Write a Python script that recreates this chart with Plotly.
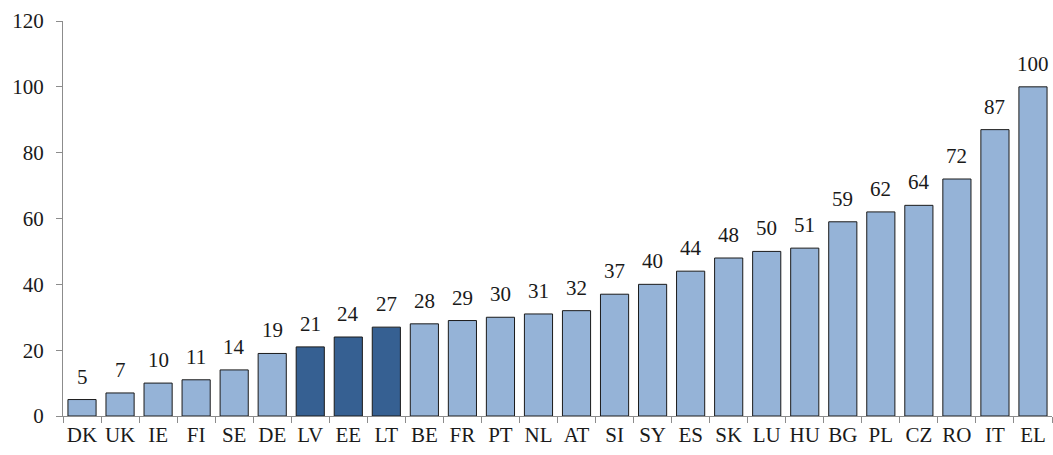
import plotly.graph_objects as go

countries = ["DK", "UK", "IE", "FI", "SE", "DE", "LV", "EE", "LT", "BE", "FR", "PT", "NL",
             "AT", "SI", "SY", "ES", "SK", "LU", "HU", "BG", "PL", "CZ", "RO", "IT", "EL"]
values = [5, 7, 10, 11, 14, 19, 21, 24, 27, 28, 29, 30, 31, 32, 37, 40, 44, 48, 50, 51,
          59, 62, 64, 72, 87, 100]
highlight = ["LV", "EE", "LT"]

light = "#95B3D7"
dark = "#366092"
colors = [dark if c in highlight else light for c in countries]

font_family = "Liberation Serif, Times New Roman, serif"

fig = go.Figure(go.Bar(
    x=countries, y=values,
    marker=dict(color=colors, line=dict(color="#1a1a1a", width=1)),
    cliponaxis=False,
))

for c, v in zip(countries, values):
    fig.add_annotation(
        x=c, y=v, text=str(v), showarrow=False, yanchor="bottom", yshift=9,
        font=dict(family=font_family, size=21, color="#1a1a1a"),
    )

fig.update_layout(
    width=1053, height=455,
    margin=dict(l=63, r=1, t=21, b=39, autoexpand=False),
    plot_bgcolor="white", paper_bgcolor="white",
    bargap=0.26, showlegend=False,
    font=dict(family=font_family, color="#1a1a1a"),
)
fig.update_xaxes(
    showline=True, linecolor="#8c8c8c", linewidth=1,
    ticks="outside", tickson="boundaries", ticklen=6, tickcolor="#8c8c8c",
    tickangle=0, automargin=False,
    tickfont=dict(family=font_family, size=21, color="#1a1a1a"),
    showgrid=False,
)
fig.update_yaxes(
    range=[0, 120], dtick=20,
    showline=True, linecolor="#8c8c8c", linewidth=1,
    ticks="outside", ticklen=6, tickcolor="#8c8c8c", automargin=False,
    ticklabelstandoff=8,
    tickfont=dict(family=font_family, size=21, color="#1a1a1a"),
    showgrid=False, zeroline=False,
)

fig.write_html(
    "out.html",
    config={"displayModeBar": False},
    post_script="document.body.style.margin='0';document.body.style.overflow='hidden';",
)
